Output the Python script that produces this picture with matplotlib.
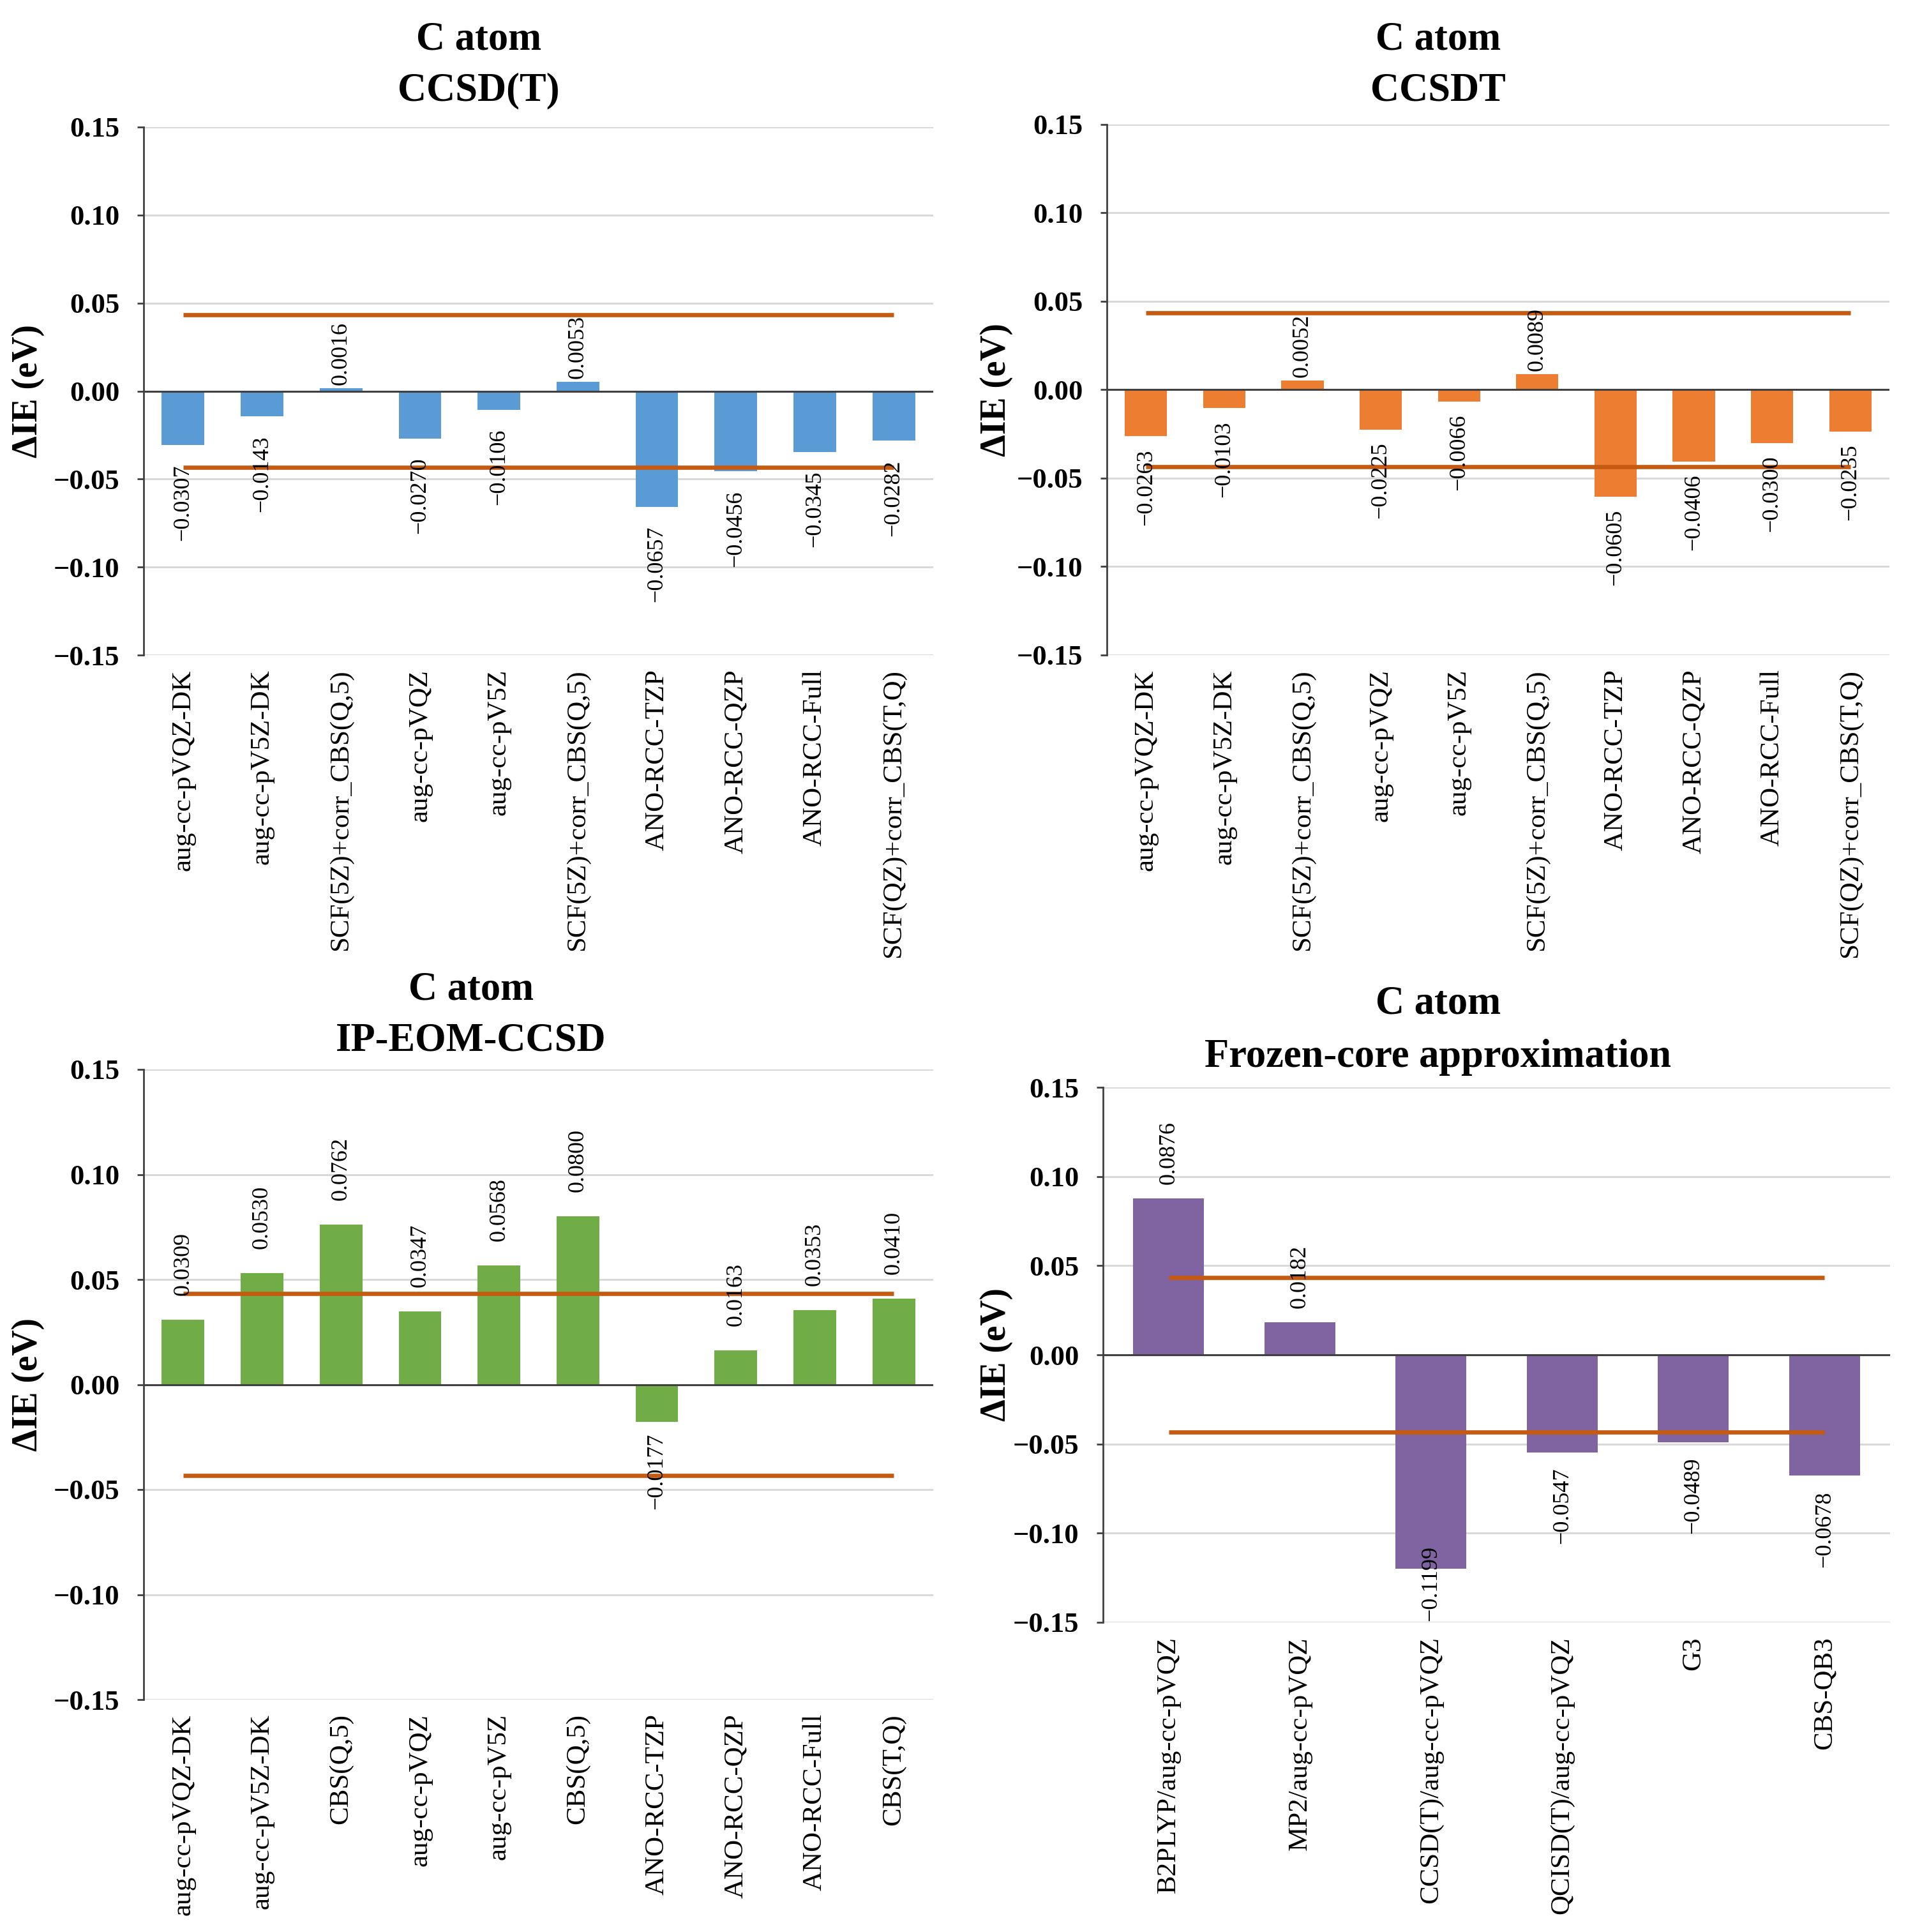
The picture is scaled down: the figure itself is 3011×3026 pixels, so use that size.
import matplotlib
matplotlib.use('Agg')
import matplotlib.pyplot as plt

plt.rcParams['font.family'] = ['Liberation Serif', 'DejaVu Serif']

W, H, DPI = 3011, 3026, 100

# ---------------- data ----------------
basis_labels = ['aug-cc-pVQZ-DK', 'aug-cc-pV5Z-DK', 'SCF(5Z)+corr_CBS(Q,5)', 'aug-cc-pVQZ',
                'aug-cc-pV5Z', 'SCF(5Z)+corr_CBS(Q,5)', 'ANO-RCC-TZP', 'ANO-RCC-QZP',
                'ANO-RCC-Full', 'SCF(QZ)+corr_CBS(T,Q)']
ip_labels = ['aug-cc-pVQZ-DK', 'aug-cc-pV5Z-DK', 'CBS(Q,5)', 'aug-cc-pVQZ', 'aug-cc-pV5Z',
             'CBS(Q,5)', 'ANO-RCC-TZP', 'ANO-RCC-QZP', 'ANO-RCC-Full', 'CBS(T,Q)']
fc_labels = ['B2PLYP/aug-cc-pVQZ', 'MP2/aug-cc-pVQZ', 'CCSD(T)/aug-cc-pVQZ',
             'QCISD(T)/aug-cc-pVQZ', 'G3', 'CBS-QB3']

ccsd_t_vals = [-0.0307, -0.0143, 0.0016, -0.0270, -0.0106, 0.0053, -0.0657, -0.0456, -0.0345, -0.0282]
ccsdt_vals = [-0.0263, -0.0103, 0.0052, -0.0225, -0.0066, 0.0089, -0.0605, -0.0406, -0.0300, -0.0235]
ipeom_vals = [0.0309, 0.0530, 0.0762, 0.0347, 0.0568, 0.0800, -0.0177, 0.0163, 0.0353, 0.0410]
fc_vals = [0.0876, 0.0182, -0.1199, -0.0547, -0.0489, -0.0678]

y_ticks = [-0.15, -0.10, -0.05, 0.00, 0.05, 0.10, 0.15]
y_tick_labels = ['\u22120.15', '\u22120.10', '\u22120.05', '0.00', '0.05', '0.10', '0.15']
CHEM_ACC = 0.0434  # 1 kcal/mol in eV

title_top = 'C atom'
subtitles = ['CCSD(T)', 'CCSDT', 'IP-EOM-CCSD', 'Frozen-core approximation']
y_label = '\u0394IE (eV)'

# ---------------- layout (pixels) ----------------
panels = [
    dict(labels=basis_labels, vals=ccsd_t_vals, color='#5B9BD5', sub=subtitles[0],
         box=(225, 199, 1462, 1026), tx=750, ty=(62, 142), ylx=44, pos_gap=5, neg_gap=30),
    dict(labels=basis_labels, vals=ccsdt_vals, color='#ED7D31', sub=subtitles[1],
         box=(1734, 195, 2960, 1026), tx=2253, ty=(62, 142), ylx=1561, pos_gap=5, neg_gap=20),
    dict(labels=ip_labels, vals=ipeom_vals, color='#70AD47', sub=subtitles[2],
         box=(225, 1675, 1462, 2662), tx=738, ty=(1550, 1630), ylx=44, pos_gap=38, neg_gap=18),
    dict(labels=fc_labels, vals=fc_vals, color='#8064A2', sub=subtitles[3],
         box=(1728, 1703, 2961, 2541), tx=2253, ty=(1572, 1656), ylx=1561, pos_gap=22, neg_gap=24),
]

fig = plt.figure(figsize=(W / DPI, H / DPI), dpi=DPI)
fig.patch.set_facecolor('white')

PX2PT = 72 / DPI
all_labels = []
for p in panels:
    l, t, r, b = p['box']
    ax = fig.add_axes([l / W, 1 - b / H, (r - l) / W, (b - t) / H])
    n = len(p['vals'])
    x = list(range(n))
    ax.bar(x, p['vals'], width=0.54, color=p['color'], zorder=2)
    ax.set_xlim(-0.5, n - 0.5)
    ax.set_ylim(-0.15, 0.15)
    ax.set_yticks(y_ticks)
    ax.set_yticklabels(y_tick_labels, fontweight='bold', fontsize=32)
    ax.set_xticks(x)
    ax.set_xticklabels(p['labels'], rotation=90, fontsize=31)
    ax.tick_params(axis='x', length=0, pad=16)
    ax.tick_params(axis='y', length=7, width=2, pad=20, color='#404040', direction='out')
    ax.set_axisbelow(True)
    ax.yaxis.grid(True, color='#D9D9D9', lw=2.2)
    for s in ('top', 'right', 'bottom'):
        ax.spines[s].set_visible(False)
    ax.spines['left'].set_color('#404040')
    ax.spines['left'].set_linewidth(2)
    ax.axhline(0, color='#404040', lw=2.2, zorder=3)
    for lvl in (CHEM_ACC, -CHEM_ACC):
        ax.plot([0, n - 1], [lvl, lvl], color='#C55A11', lw=4.8, zorder=4,
                solid_capstyle='butt')
    for xi, v in zip(x, p['vals']):
        txt = f'{v:.4f}'.replace('-', '\u2212')
        if v >= 0:
            a = ax.annotate(txt, (xi, v), xytext=(0, p['pos_gap'] * PX2PT),
                            textcoords='offset points', rotation=90, ha='center',
                            va='bottom', fontsize=26, zorder=6)
        else:
            a = ax.annotate(txt, (xi, v), xytext=(0, -p['neg_gap'] * PX2PT),
                            textcoords='offset points', rotation=90, ha='center',
                            va='top', fontsize=26, zorder=6)
        all_labels.append((ax, a))
    ax.set_ylabel(y_label, fontsize=40, fontweight='bold', labelpad=0)
    ax.yaxis.label.set_verticalalignment('center')
    ax.yaxis.set_label_coords((p['ylx'] - l) / (r - l), 0.5)
    fig.text(p['tx'] / W, 1 - p['ty'][0] / H, title_top, ha='center', va='center',
             fontsize=45, fontweight='bold')
    fig.text(p['tx'] / W, 1 - p['ty'][1] / H, p['sub'], ha='center', va='center',
             fontsize=45, fontweight='bold')

# keep data labels inside the plot area (as the spreadsheet does)
fig.canvas.draw()
renderer = fig.canvas.get_renderer()
for ax, a in all_labels:
    bb = a.get_window_extent(renderer)
    abb = ax.get_window_extent(renderer)
    if bb.y0 < abb.y0:
        delta_px = abb.y0 + 2 - bb.y0
        ox, oy = a.xyann
        a.xyann = (ox, oy + delta_px * PX2PT)

fig.savefig('out.png', dpi=DPI)
